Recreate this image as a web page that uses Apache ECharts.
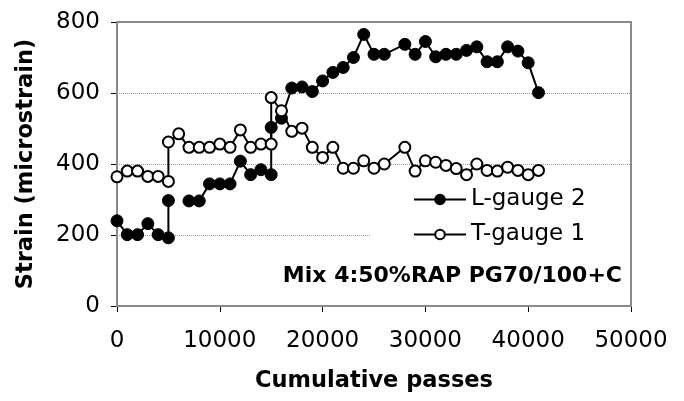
<!DOCTYPE html>
<html>
<head>
<meta charset="utf-8">
<script src="https://cdn.jsdelivr.net/npm/echarts@6/dist/echarts.min.js"></script>
<style>html,body{margin:0;padding:0;background:#fff;}#c{width:684px;height:401px;}</style>
</head>
<body>
<div id="c"></div>
<script>
const passesL = [0,1000,2000,3000,4000,5000,5000,6000,7000,8000,9000,10000,11000,12000,13000,14000,15000,15000,16000,17000,18000,19000,20000,21000,22000,23000,24000,25000,26000,28000,29000,30000,31000,32000,33000,34000,35000,36000,37000,38000,39000,40000,41000];
const strainL = [240,201,201,232,201,192,297,null,296,296,344,344,344,408,370,384,370,503,529,614,617,604,634,658,672,700,765,709,709,737,709,745,702,709,709,720,730,688,688,730,718,685,601];
const passesT = [0,1000,2000,3000,4000,5000,5000,6000,7000,8000,9000,10000,11000,12000,13000,14000,15000,15000,16000,17000,18000,19000,20000,21000,22000,23000,24000,25000,26000,28000,29000,30000,31000,32000,33000,34000,35000,36000,37000,38000,39000,40000,41000];
const strainT = [364,380,380,365,365,351,462,485,447,447,447,456,447,496,447,456,456,587,550,492,501,447,418,447,388,388,409,388,400,447,380,409,405,396,387,370,400,382,380,391,382,370,382];
const xTicks = [0,10000,20000,30000,40000,50000];
const yTicks = [0,200,400,600,800];
const seriesNames = ['L-gauge 2','T-gauge 1'];
const annotation = 'Mix 4:50%RAP PG70/100+C';

const FONT = '"DejaVu Sans", Arial, sans-serif';
const chart = echarts.init(document.getElementById('c'), null, {renderer:'canvas'});
const pair = (xs, ys) => xs.map((x,i)=>[x, ys[i]]);
chart.setOption({
  animation:false,
  backgroundColor:'#fff',
  grid:{left:117,right:53,top:22,bottom:95,z:3,show:true,borderColor:'#8a8a8a',borderWidth:2,backgroundColor:'transparent'},
  xAxis:{type:'value',min:xTicks[0],max:xTicks[xTicks.length-1],interval:10000,
    name:'Cumulative passes',nameLocation:'middle',nameGap:64,
    nameTextStyle:{fontFamily:FONT,fontWeight:'bold',fontSize:22.5,color:'#000'},
    axisLine:{show:true,onZero:false,lineStyle:{color:'#666',width:2}},
    axisTick:{show:true,inside:false,length:6,lineStyle:{color:'#000',width:1}},
    axisLabel:{fontFamily:FONT,fontSize:23,color:'#000',margin:24,formatter:v=>String(v)},
    splitLine:{show:false}},
  yAxis:{type:'value',min:yTicks[0],max:yTicks[yTicks.length-1],interval:200,
    name:'Strain (microstrain)',nameLocation:'middle',nameGap:79,
    nameTextStyle:{fontFamily:FONT,fontWeight:'bold',fontSize:22.5,color:'#000'},
    axisLine:{show:true,lineStyle:{color:'#555',width:2}},
    axisTick:{show:true,inside:false,length:6,lineStyle:{color:'#000',width:1}},
    axisLabel:{fontFamily:FONT,fontSize:23,color:'#000',margin:17},
    splitLine:{show:true,lineStyle:{color:'#999',type:'dotted',width:1}}},
  legend:{orient:'vertical',left:370,top:181,z:1,itemGap:12,itemWidth:52,itemHeight:12,
    backgroundColor:'#fff',padding:[7,60,10,43],
    textStyle:{fontFamily:FONT,fontSize:23,color:'#000'},
    data:seriesNames},
  graphic:[{type:'text',x:622,y:276,z:100,
    style:{text:annotation,font:'bold 22px '+FONT,fill:'#000',textAlign:'right',textVerticalAlign:'middle'}}],
  series:[
    {name:seriesNames[0],type:'line',z:5,data:pair(passesL,strainL),connectNulls:false,
      symbol:'circle',symbolSize:12,showSymbol:true,
      lineStyle:{color:'#000',width:2},itemStyle:{color:'#000',borderColor:'#000',borderWidth:1}},
    {name:seriesNames[1],type:'line',z:5,data:pair(passesT,strainT),
      symbol:'circle',symbolSize:11,showSymbol:true,
      lineStyle:{color:'#000',width:2},itemStyle:{color:'#fff',borderColor:'#000',borderWidth:2}}
  ]
});
</script>
</body>
</html>
